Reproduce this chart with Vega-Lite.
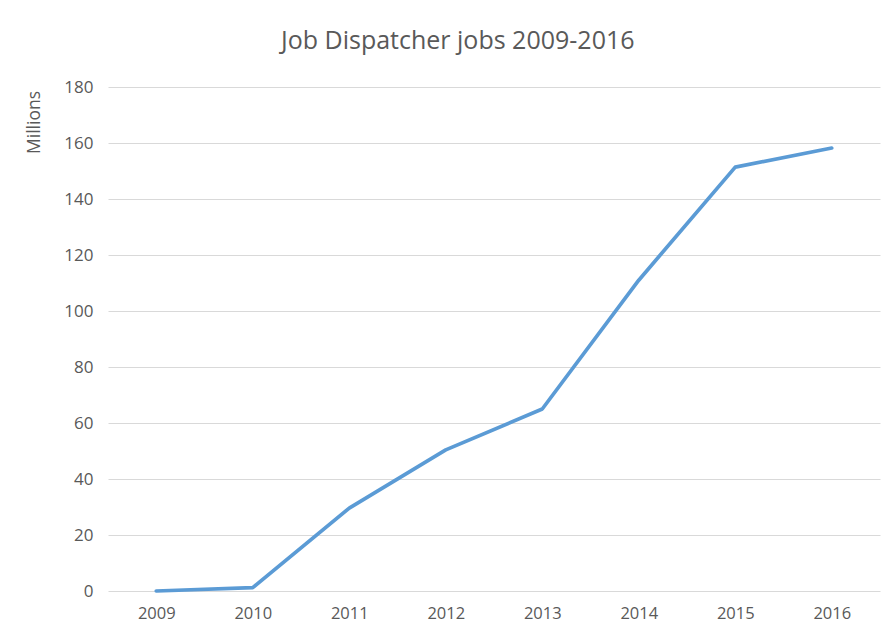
{
  "$schema": "https://vega.github.io/schema/vega-lite/v6.json",
  "width": 772,
  "height": 504,
  "autosize": {"type": "none"},
  "padding": {"left": 108, "top": 87, "right": 8, "bottom": 38},
  "background": "white",
  "config": {"view": {"stroke": null}, "font": "Open Sans"},
  "title": {
    "text": "Job Dispatcher jobs 2009-2016",
    "anchor": "start",
    "frame": "group",
    "dx": 173,
    "offset": 24,
    "fontSize": 25,
    "fontWeight": "normal",
    "color": "#595959",
    "font": "Open Sans"
  },
  "data": {
    "values": [
      {"year": "2009", "jobs": 0},
      {"year": "2010", "jobs": 1.2},
      {"year": "2011", "jobs": 29.6},
      {"year": "2012", "jobs": 50.4},
      {"year": "2013", "jobs": 65},
      {"year": "2014", "jobs": 111},
      {"year": "2015", "jobs": 151.4},
      {"year": "2016", "jobs": 158.2}
    ]
  },
  "mark": {"type": "line", "color": "#5B9BD5", "strokeWidth": 3.7, "strokeCap": "round", "strokeJoin": "round"},
  "encoding": {
    "x": {
      "field": "year",
      "type": "ordinal",
      "scale": {"type": "point", "padding": 0.5},
      "axis": {
        "title": null,
        "labelAngle": 0,
        "ticks": false,
        "domain": false,
        "labelFontSize": 16.5,
        "labelColor": "#595959",
        "labelPadding": 14,
        "labelFont": "Open Sans"
      }
    },
    "y": {
      "field": "jobs",
      "type": "quantitative",
      "scale": {"domain": [0, 180], "nice": false},
      "axis": {
        "values": [0, 20, 40, 60, 80, 100, 120, 140, 160, 180],
        "title": "Millions",
        "titleFontSize": 17.5,
        "titleFontWeight": "normal",
        "titleColor": "#595959",
        "titleFont": "Open Sans",
        "titleAngle": -90,
        "titleX": -74,
        "titleY": 35,
        "titleAlign": "center",
        "titleBaseline": "middle",
        "ticks": false,
        "domain": false,
        "grid": true,
        "gridColor": "#d9d9d9",
        "gridWidth": 1,
        "labelFontSize": 17,
        "labelColor": "#595959",
        "labelPadding": 15,
        "labelFont": "Open Sans"
      }
    }
  }
}
